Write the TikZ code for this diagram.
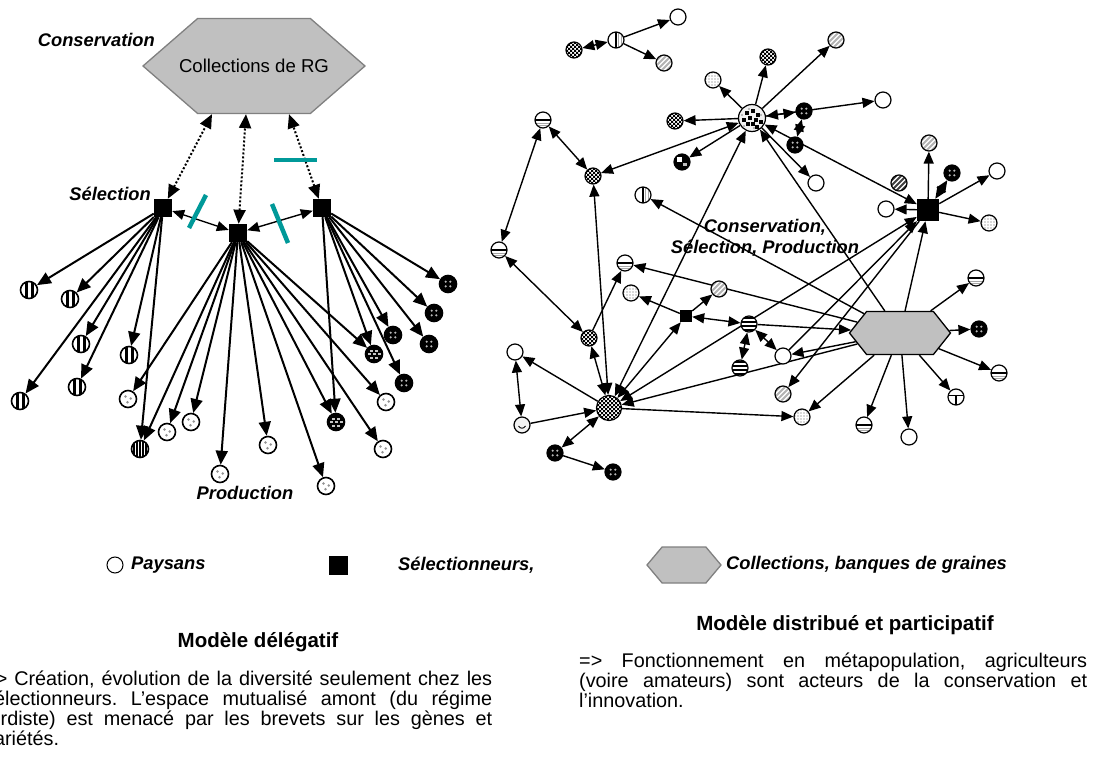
\documentclass[tikz,border=0pt]{standalone}
\usepackage{fontspec}
\setmainfont{Liberation Sans}
\usetikzlibrary{arrows.meta,shapes.symbols,backgrounds}
\definecolor{hexgray}{HTML}{C0C0C0}
\definecolor{hexedge}{HTML}{808080}
\definecolor{cutteal}{HTML}{009999}
\newcommand\leafpic[1]{\begin{scope}[shift={(path picture bounding box.center)}]#1\end{scope}}
\newcommand\lblfont{\fontsize{18.3}{20.5}\selectfont\bfseries\itshape}
\frenchspacing
\begin{document}
\begin{tikzpicture}[x=1pt, y=-1pt]
    \tikzset{
        farmer/.style = {circle, draw, fill=white, line width=1.2pt, inner sep=0pt, minimum size=16pt},
        bigleaf/.style = {farmer, line width=1.6pt, minimum size=17pt},
        breeder/.style = {rectangle, fill=black, inner sep=0pt, minimum size=18pt},
        hexnode/.style = {signal, signal to=east and west, fill=hexgray, draw=hexedge, line width=1.3pt, inner sep=0pt},
        lbl/.style = {inner sep=0pt, font=\lblfont},
        fan/.style = {-{Triangle[length=14pt,width=12pt]}, line width=2pt},
        arr/.style = {-{Triangle[length=12pt,width=10pt]}, line width=1.4pt},
        darr/.style = {{Triangle[length=12pt,width=10pt]}-{Triangle[length=12pt,width=10pt]}, line width=1.4pt},
        seedlink/.style = {{Triangle[length=14pt,width=12pt]}-{Triangle[length=14pt,width=12pt]}, line width=2pt, dotted},
        tealcut/.style = {draw=cutteal, line width=4.5pt},
        stripes/.style = {path picture={\leafpic{\fill[black] (-4.5,-10) rectangle (-1.5,10); \fill[black] (1.5,-10) rectangle (4.5,10);}}},
        densestripes/.style = {path picture={\leafpic{\foreach \o in {-6,-3,0,3,6} \fill[black] (\o-0.9,-10) rectangle (\o+0.9,10);}}},
        speckle/.style = {path picture={\leafpic{\fill[gray!85] (-2.5,-2.5) circle (1.4) (2.7,-0.5) circle (1.4) (-0.5,3.2) circle (1.4);}}},
        dkdots/.style = {fill=black, path picture={\leafpic{\fill[gray!55] (-2.3,-2.3) circle (1.2) (2.3,-2.3) circle (1.2) (-2.3,2.3) circle (1.2) (2.3,2.3) circle (1.2);}}},
        brick/.style = {fill=black, path picture={\leafpic{\foreach \a/\b in {-4/-4.5, 1/-4.5, -6.5/-1, -1.5/-1, 3.5/-1, -4/2.5, 1/2.5} \fill[gray!45] (\a,\b) rectangle ++(3.4,2);}}},
        checker/.style = {path picture={\leafpic{\foreach \i in {-14,-10,...,14} \foreach \j in {-14,-10,...,14} {\fill[black] (\i,\j) rectangle ++(2,2) (\i+2,\j+2) rectangle ++(2,2);}}}},
        lgrid/.style = {fill=gray!30, path picture={\leafpic{\foreach \o in {-6,-3,...,6} {\draw[white, line width=0.9pt] (\o,-10) -- (\o,10) (-10,\o) -- (10,\o);}}}},
        diag/.style = {path picture={\leafpic{\foreach \o in {-10,-5,0,5,10} \draw[gray!60, line width=2pt] (\o-9,9) -- (\o+9,-9);}}},
        diagdk/.style = {path picture={\leafpic{\foreach \o in {-10,-5,0,5,10} \draw[black!75, line width=2pt] (\o-9,9) -- (\o+9,-9);}}},
        hbar/.style = {path picture={\leafpic{\draw[black, line width=1.2pt] (-10,0) -- (10,0); \draw[gray!70, line width=0.8pt] (-10,3) -- (10,3) (-10,5.5) -- (10,5.5);}}},
        vhalf/.style = {path picture={\leafpic{\draw[black, line width=1.2pt] (0,-10) -- (0,10); \draw[gray!70, line width=0.8pt] (2.5,-10) -- (2.5,10) (5,-10) -- (5,10);}}},
        tbar/.style = {path picture={\leafpic{\draw[black, line width=1.2pt] (-10,-1.5) -- (10,-1.5) (0,-1.5) -- (0,10);}}},
        hstr/.style = {path picture={\leafpic{\foreach \o in {-6,-2,2,6} \fill[black] (-10,\o-1) rectangle (10,\o+1);}}},
        smile/.style = {fill=gray!10, path picture={\leafpic{\draw[black, line width=0.9pt] (-3.5,1) .. controls (-1.5,4) and (1.5,4) .. (3.5,1);}}},
        mottled/.style = {fill=black, path picture={\leafpic{\fill[white] (-5,-5) rectangle (0,0); \fill[gray!50] (1,1) rectangle (5,4);}}},
        bigspots/.style = {fill=gray!12, path picture={\leafpic{\fill[gray!70] (-3,-9) circle (1.2) (9,-3) circle (1.2) (-10,-3) circle (1.2) (2,10) circle (1.2) (-8,8) circle (1.2); \foreach \p in {(-5,-5),(1,-7),(6,-3),(-8,2),(-2,0),(4,2),(9,4),(-4,6),(1,6),(5,9)} \fill[black] \p +(-1.8,-1.8) rectangle +(1.8,1.8);}}},
    }
    \useasboundingbox (0,0) rectangle (1093,765);

    % modele delegatif
    \node[hexnode, minimum width=222pt, minimum height=95pt, signal pointer angle=82, font=\fontsize{18.6}{20}\selectfont] (hexL) at (254,66) {\makebox[0pt]{Collections de RG}};
    \node[breeder] (S1) at (163,208) {};
    \node[breeder] (S2) at (238,233) {};
    \node[breeder] (S3) at (322,208) {};
    \node[lbl, anchor=east] (lcons) at (155,40) {Conservation};
    \node[lbl, anchor=east] (lsel) at (151,194) {Sélection};
    \node[lbl] (lprod) at (245,493) {Production};
    \foreach \n/\x/\y in {v1/29/290, v2/70/299, v3/81/344, v4/129/355, v5/77/387, v6/20/401}
        \node[bigleaf, stripes] (\n) at (\x,\y) {};
    \node[bigleaf, densestripes] (vd) at (140,449) {};
    \foreach \n/\x/\y in {p1/128/399, p2/167/432, p3/191/422, p4/220/474, p5/268/445, p6/326/486, p7/383/449, p8/386/402}
        \node[bigleaf, speckle] (\n) at (\x,\y) {};
    \foreach \n/\x/\y in {d1/448/284, d2/434/313, d3/393/335, d4/429/344, d5/404/383}
        \node[bigleaf, dkdots] (\n) at (\x,\y) {};
    \node[bigleaf, brick] (b1) at (374,354) {};
    \node[bigleaf, brick] (b2) at (336,422) {};

    % modele distribue
    \node[farmer] (r1) at (678,17) {};
    \node[farmer, vhalf] (r2) at (616,40) {};
    \node[farmer, checker] (r3) at (574,50) {};
    \node[farmer, diag] (r4) at (664,63) {};
    \node[farmer, bigspots, minimum size=27pt] (c1) at (752,118) {};
    \node[farmer, lgrid] (r5) at (713,80) {};
    \node[farmer, checker] (r6) at (768,57) {};
    \node[farmer, diag] (r7) at (836,40) {};
    \node[farmer, dkdots] (r8) at (804,111) {};
    \node[farmer] (r9) at (883,100) {};
    \node[farmer, checker] (r10) at (675,121) {};
    \node[farmer, mottled] (r11) at (682,162) {};
    \node[farmer, dkdots] (r12) at (795,145) {};
    \node[farmer] (r13) at (816,183) {};
    \node[farmer, checker] (r14) at (593,176) {};
    \node[farmer, hbar] (r15) at (543,120) {};
    \node[farmer, vhalf] (r16) at (643,195) {};
    \node[breeder, minimum size=22pt] (R) at (928,210) {};
    \node[farmer, diag] (r17) at (929,143) {};
    \node[farmer, dkdots] (r18) at (952,173) {};
    \node[farmer] (r19) at (997,171) {};
    \node[farmer, lgrid] (r20) at (989,223) {};
    \node[farmer] (r21) at (886,209) {};
    \node[farmer, diagdk] (r22) at (899,183) {};
    \node[farmer, hbar] (r23) at (976,278) {};
    \node[farmer, hbar] (r24) at (499,250) {};
    \node[farmer, hbar] (r25) at (625,263) {};
    \node[farmer, lgrid] (r26) at (631,293) {};
    \node[farmer, diag] (r27) at (719,289) {};
    \node[breeder, minimum size=12pt] (s2) at (686,316) {};
    \node[farmer, hstr] (r28) at (749,324) {};
    \node[farmer, checker] (r29) at (589,338) {};
    \node[farmer] (r30) at (515,352) {};
    \node[farmer, hstr] (r31) at (740,368) {};
    \node[farmer] (r32) at (783,356) {};
    \node[hexnode, draw=black, minimum width=101pt, minimum height=43pt, signal pointer angle=103] (H) at (900,333) {};
    \node[farmer, dkdots] (r33) at (979,329) {};
    \node[farmer, hbar] (r34) at (999,373) {};
    \node[farmer, tbar] (r35) at (956,397) {};
    \node[farmer, hbar] (r36) at (864,425) {};
    \node[farmer] (r37) at (909,437) {};
    \node[farmer, diag] (r38) at (783,394) {};
    \node[farmer, lgrid] (r39) at (802,417) {};
    \node[farmer, checker, minimum size=25pt] (c2) at (609,408) {};
    \node[farmer, smile] (r40) at (522,425) {};
    \node[farmer, dkdots] (r41) at (555,453) {};
    \node[farmer, dkdots] (r42) at (613,472) {};
    \node[lbl, align=center] (ctext) at (765,238) {Conservation,\\Sélection, Production};

    \begin{scope}[on background layer]
        \foreach \t in {v1,v2,v3,v4,v5,v6,vd} \draw[fan] (S1) -- (\t);
        \foreach \t in {p1,p2,p3,p4,p5,p6,p7,p8,vd,b1,b2} \draw[fan] (S2) -- (\t);
        \foreach \t in {d1,d2,d3,d4,d5,b1,b2} \draw[fan] (S3) -- (\t);
        \draw[seedlink] (S1) -- ([xshift=-42pt]hexL.south);
        \draw[seedlink] (S2) -- ([xshift=-8pt]hexL.south);
        \draw[seedlink] (S3) -- ([xshift=35pt]hexL.south);
        \draw[darr] (S1) -- (S2);
        \draw[darr] (S2) -- (S3);

        \draw[arr] (r2) -- (r1);
        \draw[arr] (r2) -- (r4);
        \draw[darr] (r3) -- (r2);
        \foreach \t in {r5,r6,r7,r9,r10,r11,r13} \draw[arr] (c1) -- (\t);
        \foreach \t in {r8,r14,R,c2} \draw[darr] (c1) -- (\t);
        \draw[darr] (r8) -- (r12);
        \draw[darr] (r15) -- (r24);
        \draw[darr] (r15) -- (r14);
        \foreach \t in {r17,r19,r20,r21,r38} \draw[arr] (R) -- (\t);
        \draw[darr] (R) -- (r18);
        \foreach \t in {r16,r23,r25,r32,r33,r34,r35,r36,r37,r39,c1,c2,R} \draw[arr] (H) -- (\t);
        \draw[arr] (r29) -- (r25);
        \draw[darr] (r24) -- (r29);
        \draw[darr] (r29) -- (c2);
        \draw[darr] (r14) -- (c2);
        \draw[arr] (c2) -- (r30);
        \draw[darr] (r30) -- (r40);
        \draw[arr] (r40) -- (c2);
        \draw[darr] (c2) -- (r41);
        \draw[arr] (r41) -- (r42);
        \draw[arr] (c2) -- (r39);
        \draw[darr] (c2) -- (s2);
        \draw[arr] (s2) -- (r26);
        \draw[arr] (s2) -- (r27);
        \draw[darr] (s2) -- (r28);
        \draw[arr] (r28) -- (H);
        \draw[darr] (c2) -- (R);
        \draw[arr] (r32) -- (R);
        \draw[darr] (r28) -- (r31);
        \draw[darr] (r28) -- (r32);
    \end{scope}

    \draw[tealcut] (206,195) -- (189,228);
    \draw[tealcut] (272,204) -- (288,243);
    \draw[tealcut] (274,160) -- (317,160);

    % legende
    \node[farmer, line width=1pt] (kpay) at (115,565) {};
    \node[lbl, anchor=west] (tpay) at (131,565) {Paysans};
    \node[breeder, minimum size=19pt] (ksel) at (338,565) {};
    \node[lbl, anchor=west] (tsel) at (398,565) {Sélectionneurs,};
    \node[hexnode, minimum width=74pt, minimum height=36pt, signal pointer angle=100] (kcol) at (684,565) {};
    \node[lbl, anchor=west] (tcol) at (726,565) {Collections, banques de graines};

    \node[font=\fontsize{20.5}{24}\selectfont\bfseries] (titleL) at (258,642) {Modèle délégatif};
    \node[font=\fontsize{20.5}{24}\selectfont\bfseries] (titleR) at (845,625) {Modèle distribué et participatif};
    \node[anchor=north west, inner sep=0pt, text width=508pt, align=justify, font=\fontsize{19.8}{20}\selectfont] (txtL) at (-16,671)
        {=> Création, évolution de la diversité seulement chez les\linebreak sélectionneurs. L’espace mutualisé amont (du régime\linebreak fordiste) est menacé par les brevets sur les gènes et\linebreak variétés.};
    \node[anchor=north west, inner sep=0pt, text width=508pt, align=justify, font=\fontsize{19.8}{20}\selectfont] (txtR) at (579,653)
        {=> Fonctionnement en métapopulation, agriculteurs\linebreak (voire amateurs) sont acteurs de la conservation et\linebreak l’innovation.};
\end{tikzpicture}
\end{document}
